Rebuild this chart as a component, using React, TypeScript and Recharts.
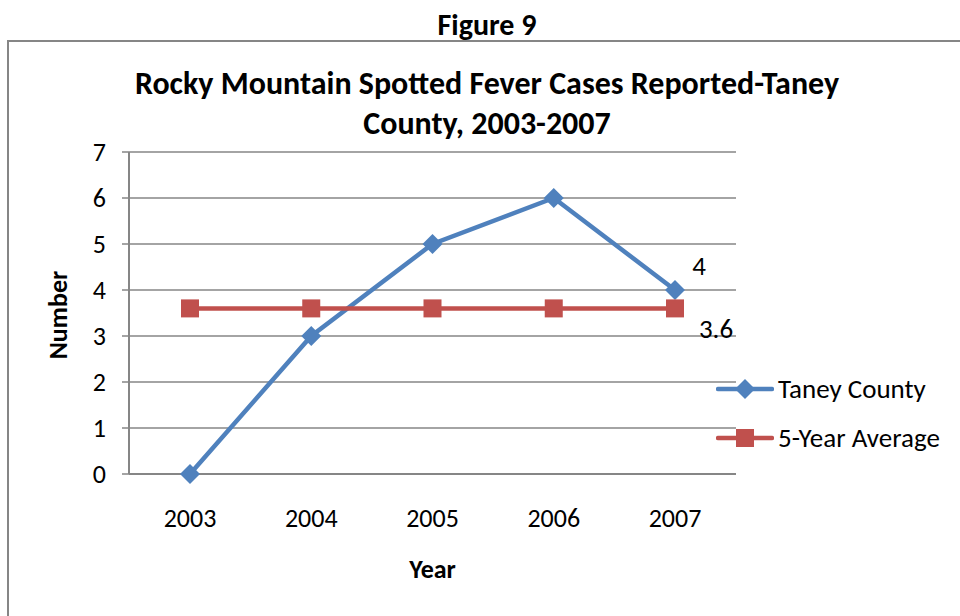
import * as React from 'react'
import { LineChart, Line, XAxis, YAxis, CartesianGrid, LabelList } from 'recharts'

const years = ['2003', '2004', '2005', '2006', '2007']
const taneyCounty = [0, 3, 5, 6, 4]
const fiveYearAverage = [3.6, 3.6, 3.6, 3.6, 3.6]
const yTicks = [0, 1, 2, 3, 4, 5, 6, 7]

const BLUE = '#4F81BD'
const RED = '#C0504D'
const GRAY = '#868686'
const FONT = "Carlito, Calibri, Lato, 'Open Sans', sans-serif"

const data = years.map((year, i) => ({
  year,
  taney: taneyCounty[i],
  average: fiveYearAverage[i],
}))

// diamond marker
const Diamond = (props: any) => {
  const { cx, cy } = props
  if (cx == null || cy == null) return null
  const r = 10
  return (
    <polygon
      points={`${cx},${cy - r} ${cx + r},${cy} ${cx},${cy + r} ${cx - r},${cy}`}
      fill={BLUE}
    />
  )
}

// square marker
const Square = (props: any) => {
  const { cx, cy } = props
  if (cx == null || cy == null) return null
  const s = 18
  return <rect x={cx - s / 2} y={cy - s / 2} width={s} height={s} fill={RED} />
}

// only the last point gets a label
const lastLabel = (dx: number, dy: number) => (props: any) => {
  const { x, y, value, index } = props
  if (index !== years.length - 1) return null
  return (
    <text x={x + dx} y={y + dy} textAnchor="middle" dominantBaseline="central" fontSize={27} fill="#000" fontFamily={FONT}>
      {value}
    </text>
  )
}

const legendItems = [
  { name: 'Taney County', color: BLUE, shape: 'diamond' },
  { name: '5-Year Average', color: RED, shape: 'square' },
]

const ChartLegend = () => (
  <div style={{ position: 'absolute', left: 716, top: 364, fontFamily: FONT, fontSize: 27, color: '#000' }}>
    {legendItems.map((item) => (
      <div key={item.name} style={{ display: 'flex', alignItems: 'center', height: 49 }}>
        <svg width={58} height={22} style={{ marginRight: 4 }}>
          <line x1={2} y1={11} x2={56} y2={11} stroke={item.color} strokeWidth={4.5} strokeLinecap="round" />
          {item.shape === 'diamond' ? (
            <polygon points="29,1 39,11 29,21 19,11" fill={item.color} />
          ) : (
            <rect x={20} y={2} width={18} height={18} fill={item.color} />
          )}
        </svg>
        <span>{item.name}</span>
      </div>
    ))}
  </div>
)

export default function App() {
  return (
    <div style={{ position: 'relative', width: 960, height: 616, overflow: 'hidden', background: '#fff' }}>
      <style>{'body{margin:0}'}</style>
      <div
        style={{
          position: 'absolute',
          left: 0,
          top: 8,
          width: 960,
          textAlign: 'center',
          fontFamily: FONT,
          fontWeight: 700,
          fontSize: 30,
          lineHeight: '34px',
          paddingLeft: 14,
          boxSizing: 'border-box',
        }}
      >
        Figure 9
      </div>
      <div
        style={{
          position: 'absolute',
          left: 7,
          top: 40,
          width: 980,
          height: 620,
          borderLeft: `2px solid ${GRAY}`,
          borderTop: `2px solid ${GRAY}`,
        }}
      />
      <div
        style={{
          position: 'absolute',
          left: 0,
          top: 64,
          width: 960,
          textAlign: 'center',
          fontFamily: FONT,
          fontWeight: 700,
          fontSize: 32,
          lineHeight: '40px',
          paddingLeft: 14,
          boxSizing: 'border-box',
        }}
      >
        Rocky Mountain Spotted Fever Cases Reported-Taney
        <br />
        County, 2003-2007
      </div>
      <LineChart
        width={960}
        height={616}
        data={data}
        margin={{ top: 152, right: 224, bottom: 112, left: 0 }}
        style={{ position: 'absolute', left: 0, top: 0, fontFamily: FONT }}
      >
        <CartesianGrid vertical={false} stroke={GRAY} strokeWidth={1.5} />
        <XAxis
          dataKey="year"
          height={30}
          padding={{ left: 61, right: 61 }}
          tickLine={false}
          axisLine={{ stroke: GRAY, strokeWidth: 2 }}
          tick={{ fill: '#000', fontSize: 26, dy: 27 }}
          label={{
            content: (p: any) => (
              <text
                x={p.viewBox.x + p.viewBox.width / 2}
                y={p.viewBox.y + 95}
                textAnchor="middle"
                dominantBaseline="central"
                fontWeight={700}
                fontSize={26}
                fontFamily={FONT}
              >
                Year
              </text>
            ),
          }}
        />
        <YAxis
          width={129}
          domain={[0, 7]}
          ticks={yTicks}
          interval={0}
          tickSize={7}
          tickLine={{ stroke: GRAY, strokeWidth: 1.5 }}
          axisLine={{ stroke: GRAY, strokeWidth: 2 }}
          tick={{ fill: '#000', fontSize: 26, dx: -14 }}
          label={{
            content: (p: any) => {
              const cx = 58
              const cy = p.viewBox.y + p.viewBox.height / 2 + 2
              return (
                <text
                  x={cx}
                  y={cy}
                  transform={`rotate(-90 ${cx} ${cy})`}
                  textAnchor="middle"
                  dominantBaseline="central"
                  fontWeight={700}
                  fontSize={26}
                  fontFamily={FONT}
                >
                  Number
                </text>
              )
            },
          }}
        />
        <Line
          dataKey="taney"
          name="Taney County"
          stroke={BLUE}
          strokeWidth={4.5}
          dot={<Diamond />}
          activeDot={false}
          isAnimationActive={false}
        >
          <LabelList dataKey="taney" content={lastLabel(24, -25)} />
        </Line>
        <Line
          dataKey="average"
          name="5-Year Average"
          stroke={RED}
          strokeWidth={4.5}
          dot={<Square />}
          activeDot={false}
          isAnimationActive={false}
        >
          <LabelList dataKey="average" content={lastLabel(41, 20)} />
        </Line>
      </LineChart>
      <ChartLegend />
    </div>
  )
}
